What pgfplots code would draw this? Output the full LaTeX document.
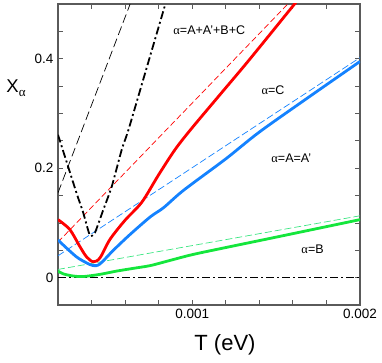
\documentclass[border=0pt]{standalone}
\usepackage{fontspec}
\setmainfont{Liberation Sans}
\newfontfamily\grk{Liberation Serif}
\usepackage{pgfplots}
\pgfplotsset{compat=1.18}
\definecolor{cred}{RGB}{255,0,0}
\definecolor{cblue}{RGB}{20,130,255}
\definecolor{cgreen}{RGB}{20,230,60}
\definecolor{cgreenl}{RGB}{60,230,130}
\definecolor{frame}{RGB}{90,90,90}

\begin{document}
\begin{tikzpicture}
\begin{axis}[scale only axis, width=302pt, height=301pt,
  xmin=0.0002, xmax=0.002, ymin=-0.05, ymax=0.5,
  axis line style={frame, line width=1.2pt},
  tick style={frame, line width=0.8pt},
  tick align=inside, major tick length=5pt, minor tick length=5pt,
  xtick={0.001,0.002}, xticklabels={0.001,0.002}, scaled x ticks=false,
  minor xtick={0.0004,0.0006,0.0008,0.0012,0.0014,0.0016,0.0018},
  ytick={0,0.2,0.4}, yticklabels={0,0.2,0.4},
  minor ytick={0.05,0.1,0.15,0.25,0.3,0.35,0.45},
  tick label style={font=\fontsize{13.5}{15}\selectfont},
  /pgf/number format/assume math mode=true,
  xticklabel style={yshift=-1pt},
  yticklabel style={xshift=-1pt},
  clip mode=individual]
\addplot[black, line width=0.7pt, dash pattern=on 8pt off 3pt on 2pt off 3pt] coordinates {(0.0002,0) (0.002,0)};
\addplot[black, line width=0.7pt, dash pattern=on 9pt off 4pt] coordinates {(0.0002,0.155) (0.00063,0.5)};
\addplot[cred, line width=0.7pt, dash pattern=on 6pt off 3pt] coordinates {(0.0002,0.065) (0.00157,0.5)};
\addplot[cblue, line width=0.7pt, dash pattern=on 7pt off 3pt] coordinates {(0.0002,0.040) (0.002,0.402)};
\addplot[cgreenl, line width=0.7pt, dash pattern=on 7pt off 3pt] coordinates {(0.0002,0.015) (0.002,0.113)};
\addplot[black, line width=1.8pt, dash pattern=on 8pt off 3pt on 2pt off 3pt, smooth, tension=0.3] coordinates {
(0.0002,0.261) (0.00031,0.155) (0.00035,0.119) (0.00039,0.077) (0.00042,0.082)
(0.00047,0.124) (0.00052,0.166) (0.00058,0.234) (0.00062,0.27) (0.00073,0.385) (0.00084,0.5)};
\addplot[cgreen, line width=2.8pt, smooth] coordinates {
(0.0002,0.012) (0.00023,0.007) (0.00029,0.003) (0.00035,0.002) (0.00045,0.006)
(0.00055,0.012) (0.00065,0.017) (0.00075,0.022) (0.00085,0.030) (0.001,0.042)
(0.0012,0.055) (0.0015,0.074) (0.002,0.106)};
\addplot[cblue, line width=2.8pt, smooth] coordinates {
(0.0002,0.069) (0.00023,0.060) (0.00031,0.038) (0.00037,0.027) (0.00041,0.022)
(0.00045,0.025) (0.00053,0.05) (0.00063,0.079) (0.00075,0.111) (0.00083,0.128)
(0.00095,0.160) (0.0012,0.217) (0.0014,0.266) (0.0017,0.331) (0.002,0.395)};
\addplot[cred, line width=2.8pt, smooth] coordinates {
(0.0002,0.106) (0.00027,0.088) (0.00033,0.057) (0.00037,0.038) (0.00041,0.029)
(0.00045,0.036) (0.00051,0.07) (0.0006,0.105) (0.0007,0.138) (0.0008,0.188)
(0.0009,0.235) (0.001,0.274) (0.00117,0.336) (0.00134,0.398) (0.00161,0.5) (0.00165,0.515)};
\node[anchor=west, font=\fontsize{12.5}{14}\selectfont] at (axis cs:0.000867,0.453) {{\grk α}=A+A'+B+C};
\node[anchor=west, font=\fontsize{12.5}{14}\selectfont] at (axis cs:0.001392,0.343) {{\grk α}=C};
\node[anchor=west, font=\fontsize{12.5}{14}\selectfont] at (axis cs:0.001451,0.219) {{\grk α}=A=A'};
\node[anchor=west, font=\fontsize{12.5}{14}\selectfont] at (axis cs:0.00163,0.051) {{\grk α}=B};
\end{axis}
\node[font=\fontsize{22}{24}\selectfont] at ([shift={(167pt,-40pt)}]current axis.south west) {T (eV)};
\node[font=\fontsize{18.5}{20}\selectfont] at ([shift={(-42pt,217pt)}]current axis.south west) {X\raisebox{-0.45ex}{\fontsize{13}{13}\selectfont\grk α}};
\pgfresetboundingbox
\path[use as bounding box] ([shift={(-58pt,-58pt)}]current axis.south west) rectangle ([shift={(22pt,4pt)}]current axis.north east);
\end{tikzpicture}
\end{document}
